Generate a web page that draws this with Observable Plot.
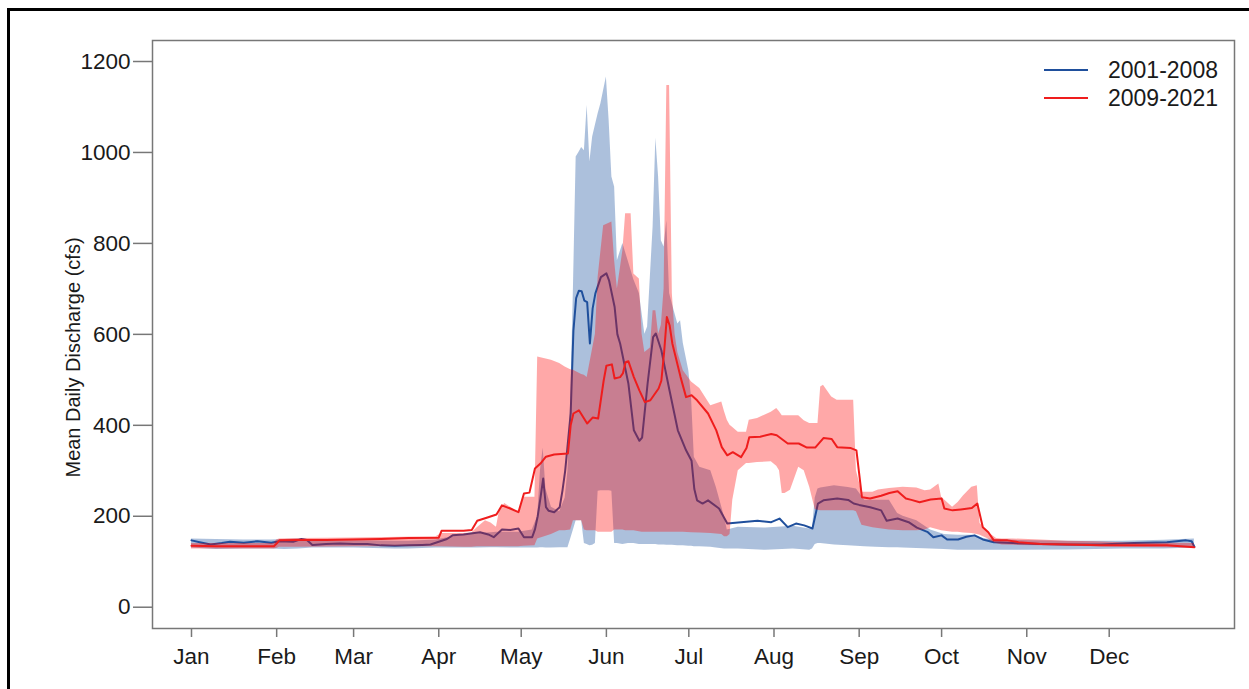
<!DOCTYPE html>
<html>
<head>
<meta charset="utf-8">
<script src="https://cdn.jsdelivr.net/npm/d3@7"></script>
<script src="https://cdn.jsdelivr.net/npm/@observablehq/plot@0.6"></script>
<style>
  html, body { margin: 0; padding: 0; background: #fff; overflow: hidden; }
  #wrap { position: relative; width: 1249px; height: 689px; font-family: "Liberation Sans", Arial, sans-serif; }
  #border { position: absolute; left: 7px; top: 8px; width: 1400px; height: 900px; border: 3px solid #000; box-sizing: border-box; pointer-events: none; }
  #chart { position: absolute; left: 0; top: 0; }
  .leg { position: absolute; left: 1044px; display: flex; align-items: center; height: 28px; }
  .leg .sw { width: 44px; height: 2px; }
  .leg .lb { margin-left: 20px; font-size: 23px; color: #1a1a1a; }
</style>
</head>
<body>
<div id="wrap">
  <div id="chart"></div>
  <div id="legend"></div>
  <div id="border"></div>
</div>
<script>
// ---- data (day of year, cfs) ----
const monthLabels = ["Jan","Feb","Mar","Apr","May","Jun","Jul","Aug","Sep","Oct","Nov","Dec"];
const monthDays = [1,32,60,91,121,152,182,213,244,274,305,335];
const yTicks = [0,200,400,600,800,1000,1200];
const seriesNames = ["2001-2008","2009-2021"];

// mean daily discharge, 2001-2008 : [day, cfs]
const blueMean = [[1,147],[4,143],[8,138],[12,141],[15,144],[20,142],[25,145],[30,142],[33,145],[38,144],[41,150],[43,148],[45,137],[50,139],[55,140],[60,139],[65,139],[70,136],[75,135],[80,136],[85,137],[88,138],[91,144],[94,150],[96,158],[100,160],[106,165],[109,160],[111,154],[114,171],[117,170],[120,173],[122,154],[125,154],[126,171],[127,200],[128,240],[129,283],[130,220],[131,212],[133,209],[135,220],[136,256],[137,300],[139,426],[140,608],[141,680],[142,696],[143,695],[144,674],[145,671],[146,580],[147,657],[148,690],[150,726],[152,734],[153,718],[155,660],[156,600],[157,580],[160,492],[162,389],[164,366],[165,373],[167,492],[169,594],[170,602],[172,565],[173,535],[175,476],[178,389],[181,345],[183,322],[184,260],[185,235],[187,228],[189,235],[193,217],[196,184],[201,187],[207,190],[212,187],[215,195],[218,176],[221,184],[224,180],[227,173],[229,228],[231,235],[236,239],[240,236],[242,228],[244,225],[248,220],[252,213],[254,190],[258,195],[262,187],[265,175],[269,165],[271,154],[274,158],[276,149],[280,149],[283,155],[286,158],[289,149],[293,143],[300,141],[310,139],[320,138],[332,138],[344,141],[356,143],[363,147],[365,145],[366,133]];

// mean daily discharge, 2009-2021 : [day, cfs]
const redMean = [[1,135],[10,134],[20,134],[31,134],[32,140],[33,147],[40,148],[50,148],[60,149],[70,150],[80,152],[91,153],[92,168],[96,168],[100,168],[103,170],[105,190],[109,198],[112,204],[114,224],[117,217],[120,209],[122,250],[124,252],[126,305],[128,316],[130,331],[133,336],[138,338],[139,400],[140,426],[142,433],[145,404],[147,417],[149,415],[151,498],[152,531],[154,534],[155,503],[157,506],[158,514],[159,539],[160,541],[162,506],[164,477],[166,451],[168,455],[171,481],[172,498],[173,560],[174,638],[175,620],[176,580],[179,506],[181,462],[183,466],[185,455],[189,426],[192,389],[194,352],[196,334],[198,341],[201,330],[203,350],[204,374],[208,375],[212,381],[214,378],[218,360],[222,360],[225,351],[228,351],[231,372],[234,370],[236,352],[241,350],[243,345],[244,294],[245,242],[248,239],[252,245],[255,251],[258,255],[261,239],[263,236],[266,231],[270,237],[274,239],[275,217],[278,213],[281,215],[285,218],[287,228],[289,176],[291,165],[293,147],[298,147],[302,143],[310,139],[320,138],[332,136],[344,136],[356,136],[366,132]];

// range band, 2001-2008 : [day, low, high]
const blueBand = [[1,130,150],[10,127,149],[20,128,148],[30,128,148],[35,127,149],[40,128,150],[45,130,145],[60,130,146],[75,128,145],[80,128,145],[90,130,148],[96,130,155],[100,130,158],[105,130,162],[110,131,164],[112,131,165],[120,130,165],[125,130,170],[127,130,200],[128,131,300],[129,131,350],[130,130,260],[132,130,220],[135,131,210],[137,131,240],[138,131,300],[139,150,450],[140,170,700],[141,190,990],[142,190,1000],[143,190,1011],[144,140,1004],[145,138,1103],[146,135,979],[147,136,1034],[148,140,1060],[149,255,1085],[150,256,1107],[152,256,1166],[153,256,1070],[154,255,946],[155,140,924],[156,140,762],[158,138,800],[160,140,760],[162,140,720],[164,138,690],[166,138,600],[167,138,616],[169,138,836],[170,138,1031],[171,137,946],[172,137,806],[173,137,792],[174,136,850],[175,136,690],[176,136,667],[178,135,623],[179,135,630],[180,135,580],[182,134,520],[183,134,460],[184,133,330],[186,133,308],[190,132,300],[192,130,264],[195,128,198],[196,128,170],[200,128,176],[210,125,174],[220,128,178],[226,125,172],[227,128,172],[228,138,240],[229,140,260],[230,140,262],[235,137,267],[240,135,263],[243,134,260],[246,133,235],[250,132,235],[255,131,235],[258,131,206],[260,130,200],[265,129,190],[270,128,170],[275,127,160],[280,125,158],[285,125,158],[290,125,150],[300,125,147],[320,126,145],[340,128,145],[355,128,147],[366,130,150]];

// range band, 2009-2021 : [day, low, high]
const redBand = [[1,128,140],[31,128,140],[32,129,148],[33,132,150],[40,132,151],[60,133,152],[90,133,155],[92,133,162],[100,132,162],[103,132,163],[105,133,175],[108,133,190],[110,133,185],[112,133,176],[113,133,209],[115,133,228],[120,133,209],[122,134,242],[126,135,242],[127,150,550],[132,160,543],[135,168,536],[137,168,528],[139,170,522],[140,190,521],[143,190,512],[144,170,510],[145,168,505],[148,168,600],[149,165,726],[151,165,839],[154,165,847],[155,170,762],[156,170,700],[158,170,784],[159,168,865],[161,168,865],[162,168,733],[164,166,722],[165,165,600],[166,165,560],[168,165,570],[169,165,652],[170,165,652],[171,165,600],[172,165,620],[173,165,700],[174,165,1147],[175,165,1147],[176,165,690],[177,165,600],[178,165,560],[180,165,520],[183,164,495],[186,163,481],[190,162,443],[194,160,451],[195,155,430],[196,155,411],[197,160,400],[198,235,395],[200,300,385],[203,316,385],[204,316,411],[207,318,415],[212,320,429],[214,310,437],[215,300,430],[216,250,421],[217,250,421],[219,257,421],[222,308,421],[224,300,410],[226,264,404],[228,215,404],[229,213,404],[230,212,484],[231,212,488],[234,212,462],[236,212,455],[242,212,455],[243,210,300],[245,180,253],[249,175,253],[251,173,258],[255,170,261],[260,168,264],[265,168,262],[268,170,256],[270,175,258],[273,170,271],[274,168,242],[278,165,220],[280,165,230],[282,163,245],[285,162,264],[287,160,267],[288,158,184],[291,150,165],[292,145,160],[294,140,151],[296,137,150],[300,136,150],[310,135,148],[320,134,145],[330,133,144],[340,132,142],[366,130,140]];

const yLabel = "Mean Daily Discharge (cfs)";

// ---- styles ----
const blueLine = "#1f4f9c";
const redLine = "#ef1d1d";
const axisGray = "#777";

const toPts = a => a.map(([day, v]) => ({day, v}));
const toBand = a => a.map(([day, lo, hi]) => ({day, lo, hi}));

const chart = Plot.plot({
  width: 1249,
  height: 689,
  marginLeft: 152,
  marginRight: 15,
  marginTop: 40,
  marginBottom: 61,
  style: {fontFamily: "'Liberation Sans', Arial, sans-serif", fontSize: "22.5px", color: "#1a1a1a", background: "transparent", overflow: "visible"},
  x: {domain: [-13.19, 380.6]},
  y: {domain: [-46.8, 1246.2]},
  marks: [
    Plot.areaY(toBand(blueBand), {x: "day", y1: "lo", y2: "hi", fill: "#1f55a0", fillOpacity: 0.37}),
    Plot.lineY(toPts(blueMean), {x: "day", y: "v", stroke: blueLine, strokeWidth: 2}),
    Plot.areaY(toBand(redBand), {x: "day", y1: "lo", y2: "hi", fill: "#ff0000", fillOpacity: 0.34}),
    Plot.lineY(toPts(redMean), {x: "day", y: "v", stroke: redLine, strokeWidth: 2}),
    Plot.frame({stroke: axisGray, strokeWidth: 1.5}),
    Plot.axisY({ticks: yTicks, tickSize: 19, tickPadding: 3, stroke: axisGray, strokeWidth: 1.5, fill: "#1a1a1a", label: null, tickFormat: d => String(d)}),
    Plot.axisX({ticks: monthDays, tickSize: 9, tickPadding: 11, stroke: axisGray, strokeWidth: 1.5, fill: "#1a1a1a", label: null, tickFormat: d => monthLabels[monthDays.indexOf(d)]}),
    Plot.text([yLabel], {frameAnchor: "left", textAnchor: "middle", rotate: -90, dx: -79, dy: 23, fontSize: 20, fill: "#1a1a1a"})
  ]
});
document.getElementById("chart").appendChild(chart);

// legend
const legend = document.getElementById("legend");
const legColors = [blueLine, redLine];
const legTops = [56, 84];
seriesNames.forEach((name, i) => {
  const row = document.createElement("div");
  row.className = "leg";
  row.style.top = legTops[i] + "px";
  const sw = document.createElement("div");
  sw.className = "sw";
  sw.style.background = legColors[i];
  const lb = document.createElement("div");
  lb.className = "lb";
  lb.textContent = name;
  row.appendChild(sw);
  row.appendChild(lb);
  legend.appendChild(row);
});
</script>
</body>
</html>
